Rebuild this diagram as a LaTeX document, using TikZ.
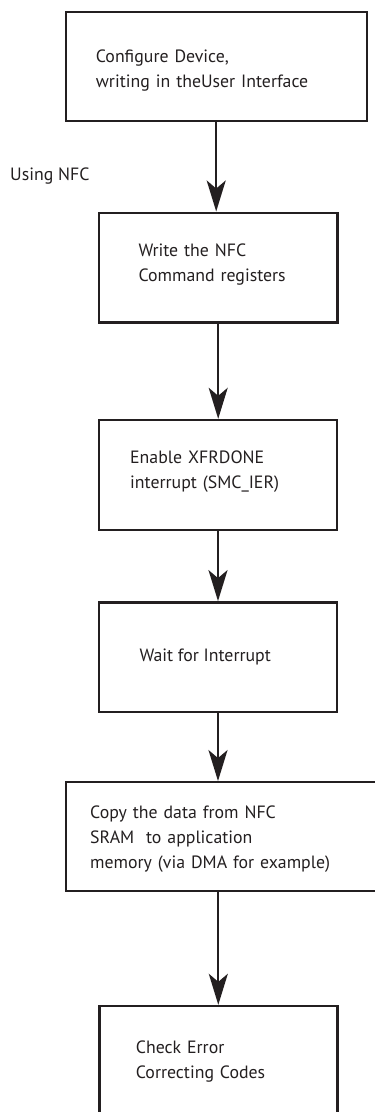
\documentclass[tikz,border=0pt]{standalone}
\usepackage{fontspec}
\setmainfont{PT Sans}
\usepackage{tikz}
\usepackage{xcolor}
\usetikzlibrary{arrows.meta,calc,positioning}
\definecolor{InkBlack}{HTML}{231F20}

\begin{document}
\begin{tikzpicture}[x=1pt, y=-1pt,
    stepbox/.style={draw=InkBlack, line width=2.4pt, inner sep=0pt},
    steptext/.style={anchor=base west, inner sep=0pt, align=left, text=InkBlack,
        font=\fontsize{17.8}{25.2}\selectfont},
    flowarrow/.style={draw=InkBlack, line width=2pt,
        -{Stealth[length=31pt, width=19pt, inset=8pt]}}]
    % Frame of the page (boxes 5 and 6 run past it)
    \path[use as bounding box, clip] (0,0) rectangle (375,1112);

    % Step boxes
    \node[stepbox, minimum width=301pt, minimum height=109pt] (config) at (216.2,66.2) {};
    \node[stepbox, minimum width=238.5pt, minimum height=109.6pt] (nfccmd) at (218.2,267.5) {};
    \node[stepbox, minimum width=238.5pt, minimum height=110pt] (ier) at (218,475) {};
    \node[stepbox, minimum width=238.5pt, minimum height=109.4pt] (wait) at (218,657) {};
    \node[stepbox, minimum width=312pt, minimum height=108.7pt] (copy) at (221.7,836.6) {};
    \node[stepbox, minimum width=238pt, minimum height=110pt] (ecc) at (218.3,1061) {};

    % Texts inside the boxes
    \node[steptext, text width=270pt] (configtext) at (95.7,62) {Configure Device,\\writing in theUser Interface};
    \node[steptext, text width=190pt] (nfccmdtext) at (138.3,256) {Write the NFC\\Command registers};
    \node[steptext, text width=200pt] (iertext) at (130,463.3) {Enable XFRDONE\\interrupt (SMC\_IER)};
    \node[steptext] (waittext) at (139.3,661.7) {Wait for Interrupt};
    \node[steptext, text width=285pt] (copytext) at (90,818.3) {Copy the data from NFC\\SRAM\ \ to application\\memory (via DMA for example)};
    \node[steptext, text width=190pt] (ecctext) at (135.7,1053.3) {Check Error\\Correcting Codes};

    % Side note
    \node[steptext] (usingnfc) at (10,180) {Using NFC};

    % Arrows between steps
    \draw[flowarrow] (config.south) -- (config.south |- nfccmd.north);
    \draw[flowarrow] (nfccmd.south) -- (nfccmd.south |- ier.north);
    \draw[flowarrow] (ier.south) -- (ier.south |- wait.north);
    \draw[flowarrow] (wait.south) -- (wait.south |- copy.north);
    \draw[flowarrow] (copy.south -| ecc.north) -- (ecc.north);
\end{tikzpicture}
\end{document}
